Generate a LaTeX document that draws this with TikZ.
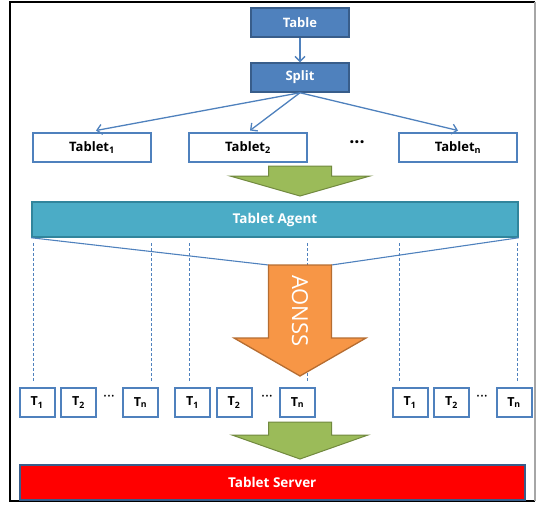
\documentclass[tikz,border=0pt]{standalone}
\usepackage{fontspec}
\setmainfont{Open Sans}
\usetikzlibrary{arrows.meta}
\definecolor{cblue}{HTML}{4F81BD}
\definecolor{cdblue}{HTML}{385D8A}
\definecolor{cgreen}{HTML}{9BBB59}
\definecolor{cdgreen}{HTML}{71893F}
\definecolor{cteal}{HTML}{4BACC6}
\definecolor{cdteal}{HTML}{31859C}
\definecolor{corange}{HTML}{F79646}
\definecolor{cdorange}{HTML}{B66D31}
\definecolor{cred}{HTML}{FF0000}
\tikzset{
  bluebox/.style={draw=cdblue, fill=cblue, line width=1.5pt, text=white,
    font=\fontsize{13}{15}\selectfont\bfseries, minimum width=98pt, minimum height=29pt, inner sep=0pt},
  tabbox/.style={draw=cblue, fill=white, line width=2pt, text=black,
    font=\fontsize{13}{15}\selectfont\bfseries, minimum width=118pt, minimum height=29pt, inner sep=0pt},
  tbox/.style={draw=cblue, fill=white, line width=2pt, text=black,
    font=\fontsize{12.5}{14}\selectfont\bfseries, minimum width=35pt, minimum height=29pt, inner sep=0pt},
  dots/.style={font=\fontsize{18}{18}\selectfont\bfseries, inner sep=0pt},
  conn/.style={draw=cblue, line width=1.3pt, -{Straight Barb[length=5pt,width=10pt]}},
  funnel/.style={draw=cblue, line width=1.1pt},
  guide/.style={draw=cblue, line width=0.9pt, dash pattern=on 3pt off 2pt},
  greenarrow/.style={fill=cgreen, draw=cdgreen, line width=1pt, line join=miter},
}
\begin{document}
\begin{tikzpicture}[x=1pt,y=-1pt]
\useasboundingbox (0,0) rectangle (536,504);
% frame
\draw[black, line width=1.2pt] (535,2) -- (10,2) -- (10,501) -- (535,501);
\draw[gray!70, line width=1.2pt] (535,2) -- (535,501);

% top boxes
\node[bluebox] (table) at (300,22.5) {Table};
\node[bluebox] (split) at (300,77.5) {Split};
\node[tabbox] (tab1) at (92,147.5) {Tablet\textsubscript{1}};
\node[tabbox] (tab2) at (248,147.5) {Tablet\textsubscript{2}};
\node[tabbox] (tabn) at (458,147.5) {Tablet\textsubscript{n}};
\node[dots] (tdots) at (357,145) {···};

\draw[conn] (table.south) -- (split.north);
\draw[conn] (split.south) -- ([xshift=4pt,yshift=1.5pt]tab1.north);
\draw[conn] (split.south) -- ([xshift=2pt,yshift=1.5pt]tab2.north);
\draw[conn] (split.south) -- ([yshift=1.5pt]tabn.north);

% green arrow 1
\draw[greenarrow] (268.5,166) -- (331.5,166) -- (331.5,176) -- (370,176) -- (300,196)
  -- (230,176) -- (268.5,176) -- cycle;

% tablet agent
\node[draw=cdteal, fill=cteal, line width=1.5pt, text=white,
  font=\fontsize{13.5}{16}\selectfont\bfseries, minimum width=486pt, minimum height=35pt,
  inner sep=0pt] (agent) at (275,219.5) {Tablet Agent};

% dashed guides
\foreach \x/\n in {33/a,151/b,189/c,307/d,399/e,517/f}{
  \coordinate (gt\n) at (\x,243);
  \coordinate (gb\n) at (\x,382);
  \draw[guide] (gt\n) -- (gb\n);
}

% funnel lines
\coordinate (ol) at (268.5,265);
\coordinate (or) at (331.5,265);
\draw[funnel] (agent.south west) -- (ol);
\draw[funnel] (agent.south east) -- (or);

% orange arrow
\draw[fill=corange, draw=cdorange, line width=1.3pt, line join=miter]
  (268.5,265) -- (331.5,265) -- (331.5,338) -- (366,338) -- (300,376)
  -- (234,338) -- (268.5,338) -- cycle;
\node[rotate=-90, text=white, font=\fontsize{22}{24}\selectfont, inner sep=0pt] (aonss) at (300,311) {AONSS};

% T boxes
\foreach \g/\a/\b/\d/\c in {1/37/78.5/109/140.5, 2/192.5/234/267/297.5, 3/410/451.5/482/514}{
  \node[tbox] (t\g a) at (\a,402.5) {T\textsubscript{1}};
  \node[tbox] (t\g b) at (\b,402.5) {T\textsubscript{2}};
  \node[dots, font=\fontsize{15}{15}\selectfont] (t\g d) at (\d,398.5) {···};
  \node[tbox] (t\g n) at (\c,402.5) {T\textsubscript{n}};
}

% green arrow 2
\draw[greenarrow] (268.5,422) -- (331.5,422) -- (331.5,435) -- (368,435) -- (300,459)
  -- (232,435) -- (268.5,435) -- cycle;

% tablet server
\node[draw=cdblue, fill=cred, line width=2pt, text=white,
  font=\fontsize{13.5}{16}\selectfont\bfseries, minimum width=505pt, minimum height=35pt,
  inner sep=0pt] (server) at (272.25,482) {Tablet Server};
\end{tikzpicture}
\end{document}
